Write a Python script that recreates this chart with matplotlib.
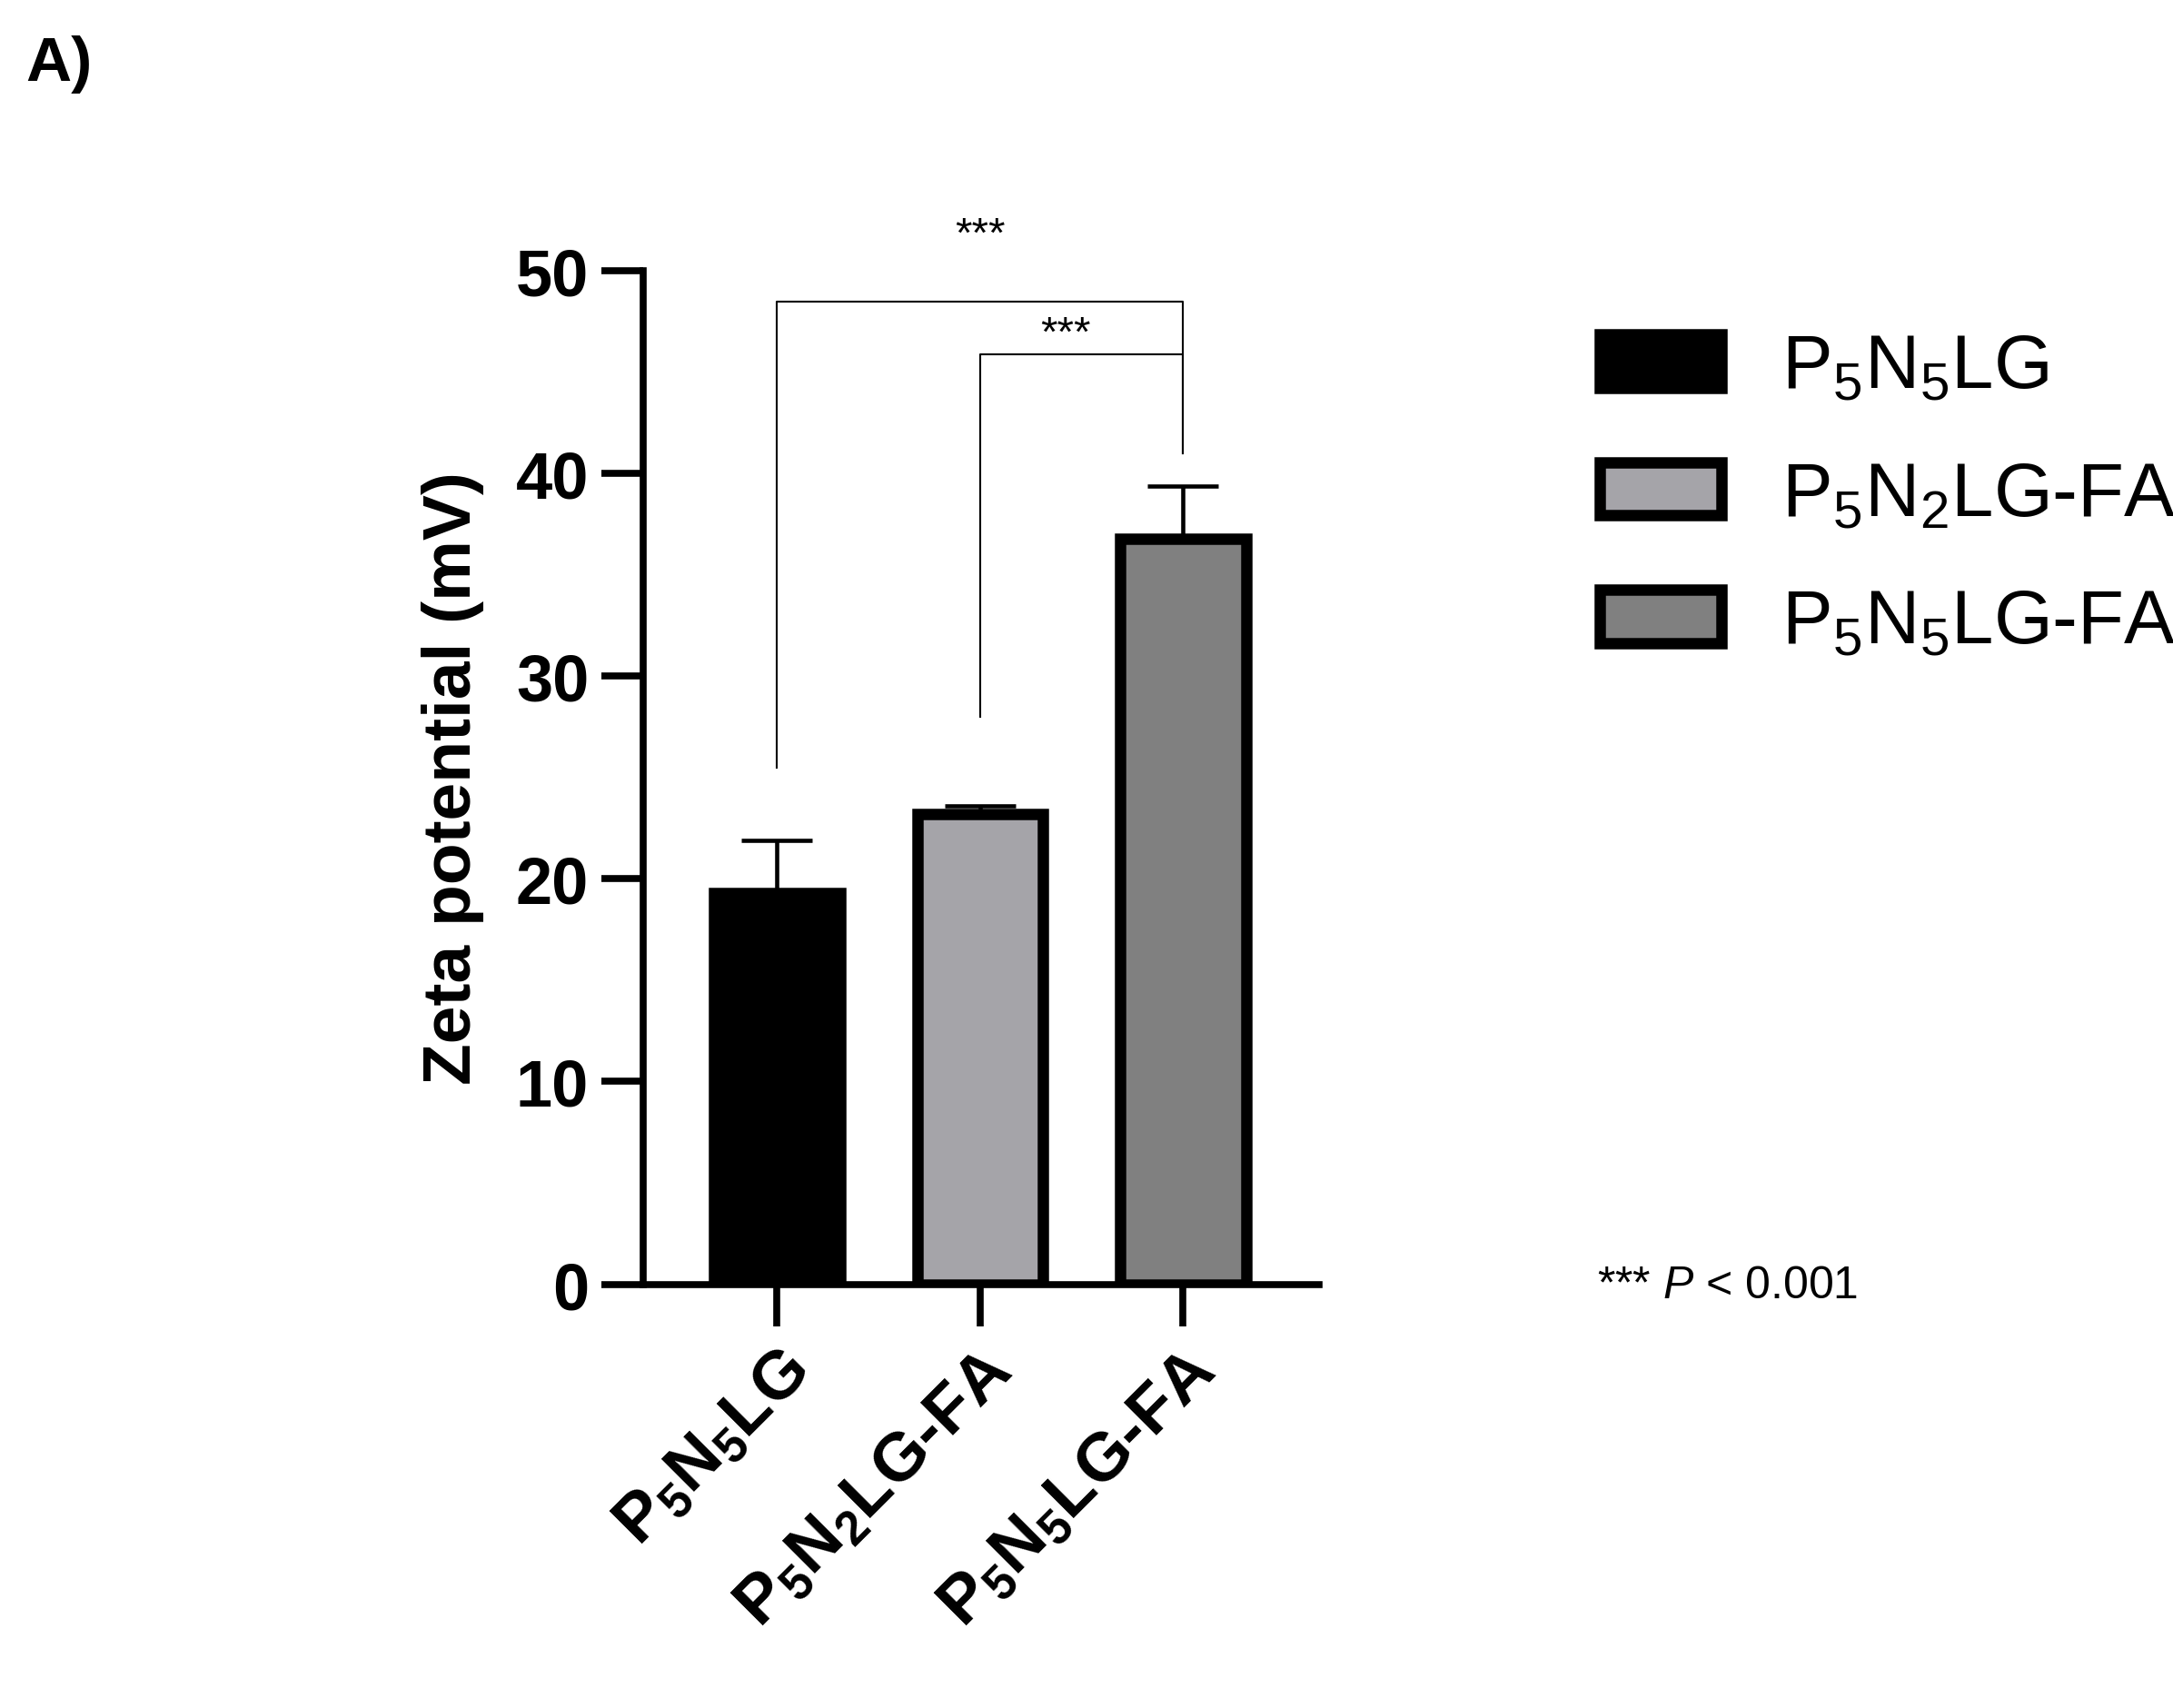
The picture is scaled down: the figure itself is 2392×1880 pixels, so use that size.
import matplotlib
import matplotlib.pyplot as plt
import numpy as np

matplotlib.rcParams.update({
    "font.family": ["Liberation Sans", "DejaVu Sans"],
    "mathtext.fontset": "custom",
    "mathtext.rm": "Liberation Sans",
    "mathtext.it": "Liberation Sans:italic",
    "mathtext.bf": "Liberation Sans:bold",
    "mathtext.default": "regular",
})

labels = [r"P$_5$N$_5$LG", r"P$_5$N$_2$LG-FA", r"P$_5$N$_5$LG-FA"]
means = [19.3, 23.2, 36.8]
errs = [2.6, 0.4, 2.6]
colors = ["#000000", "#a5a4a9", "#808080"]

fig = plt.figure(figsize=(23.92, 18.81), dpi=100)
ax = fig.add_axes([0.296, 0.248, 0.311, 0.593])

x = np.arange(len(means))
ax.errorbar(x, means, yerr=[[0] * 3, errs], fmt="none", ecolor="black",
            elinewidth=3.3, capsize=28, capthick=3.3, zorder=1)
bars = ax.bar(x, means, width=0.62, color=colors, edgecolor="black",
              linewidth=9, label=labels, zorder=2)

ax.set_xlim(-0.66, 2.67)
ax.set_ylim(0, 50)
ax.set_yticks([0, 10, 20, 30, 40, 50])
ax.set_xticks(x)
ax.set_xticklabels(labels, rotation=45, ha="right", rotation_mode="anchor",
                   fontsize=54, fontweight="bold")
for t in ax.get_yticklabels():
    t.set_fontsize(52)
    t.set_fontweight("bold")
ax.tick_params(axis="both", length=33, width=5.5, pad=10)
ax.set_ylabel("Zeta potential (mV)", fontsize=54, fontweight="bold", labelpad=25)
for s in ["top", "right"]:
    ax.spines[s].set_visible(False)
for s in ["left", "bottom"]:
    ax.spines[s].set_linewidth(5.5)
ax.spines["bottom"].set_bounds(-0.66, 2.67)

# significance brackets
ax.plot([0, 0, 2, 2], [25.5, 48.5, 48.5, 41], color="black", lw=1.5, clip_on=False)
ax.plot([1, 1, 2, 2], [28, 45.9, 45.9, 41], color="black", lw=1.5, clip_on=False)
ax.text(1, 50.8, "***", ha="center", va="bottom", fontsize=34, clip_on=False)
ax.text(1.42, 45.9, "***", ha="center", va="bottom", fontsize=34)

fig.legend(handles=bars.patches, labels=labels, loc="upper left",
           bbox_to_anchor=(0.705, 0.845), frameon=False, fontsize=60,
           handlelength=1.6, handleheight=0.7, labelspacing=0.75, handletextpad=0.8)

fig.text(0.735, 0.247, r"*** $\it{P}$ < 0.001", fontsize=36, va="center")
fig.text(0.012, 0.962, "A)", fontsize=50, fontweight="bold", va="center")

fig.savefig("out.png", dpi=100)
